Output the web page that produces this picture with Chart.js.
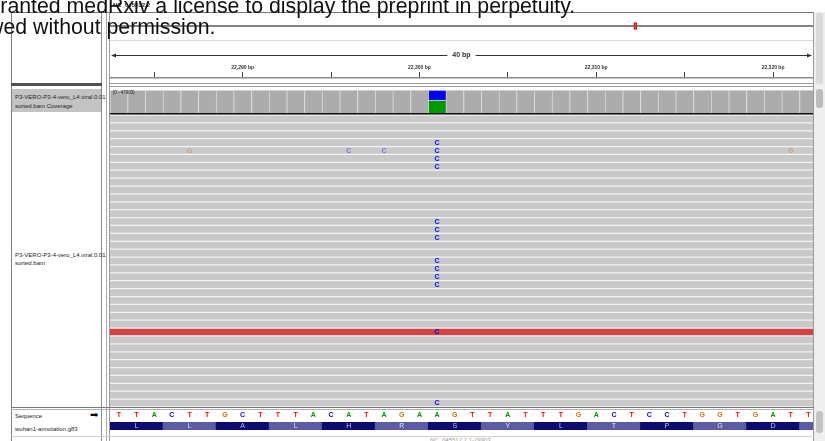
<!DOCTYPE html>
<html><head><meta charset="utf-8">
<script src="https://cdn.jsdelivr.net/npm/chart.js@4.4.1/dist/chart.umd.min.js"></script>
<style>
html,body{margin:0;padding:0;background:#fff;}
#root{position:relative;width:825px;height:441px;overflow:hidden;font-family:"Liberation Sans",Arial,Helvetica,sans-serif;background:#fff;}
#root div{position:absolute;}
#root canvas{position:absolute;display:block;}
.lbl{font-size:6px;color:#1e1e1e;white-space:nowrap;}
.wm{font-size:21.3px;line-height:21.5px;color:#111;white-space:nowrap;z-index:20;}
</style></head><body><div id="root">
<!-- scrollbar column -->
<div style="left:814px;top:12px;width:11px;height:429px;background:#efefef;"></div>
<div style="left:816px;top:13px;width:7px;height:71px;background:#dadada;border-radius:2px;"></div>
<div style="left:816px;top:89px;width:7px;height:19px;background:#bcbcbc;border-radius:3px;"></div>
<div style="left:816px;top:411px;width:7px;height:22px;background:#c4c4c4;border-radius:3px;"></div>
<!-- panel lines -->
<div style="left:11px;top:12px;width:803px;height:1px;background:#7a7a7a;"></div>
<div style="left:11px;top:12px;width:1px;height:429px;background:#808080;"></div>
<div style="left:101px;top:12px;width:1px;height:429px;background:#8a8a8a;"></div>
<div style="left:106px;top:0px;width:1px;height:441px;background:#a8a8a8;"></div>
<div style="left:109px;top:12px;width:1px;height:429px;background:#9a9a9a;"></div>
<div style="left:813px;top:12px;width:1px;height:429px;background:#9a9a9a;"></div>
<div style="left:110px;top:40px;width:703px;height:1px;background:#dcdcdc;"></div>
<div style="left:11px;top:83px;width:91px;height:3px;background:#505050;"></div>
<div style="left:110px;top:83px;width:703px;height:1px;background:#9a9a9a;"></div>
<div style="left:110px;top:86px;width:703px;height:1px;background:#9a9a9a;"></div>
<div style="left:12px;top:89px;width:89px;height:23px;background:#c3c3c3;"></div>
<div style="left:110px;top:113px;width:703px;height:1px;background:#111;"></div>
<div style="left:110px;top:114px;width:703px;height:1px;background:#777;"></div>
<div style="left:11px;top:407px;width:803px;height:1px;background:#7a7a7a;"></div>
<div style="left:11px;top:409px;width:803px;height:1px;background:#b0b0b0;"></div>
<div style="left:11px;top:436px;width:803px;height:1px;background:#cfcfcf;"></div>
<!-- track names -->
<div class="lbl" style="left:15px;top:93px;line-height:9px;">P3-VERO-P3-4-vero_L4.viral.0.01<br>sorted.bam Coverage</div>
<div class="lbl" style="left:15px;top:252px;line-height:7.6px;">P3-VERO-P3-4-vero_L4.viral.0.01<br>sorted.bam</div>
<div class="lbl" style="left:15px;top:412px;line-height:8px;">Sequence</div>
<div style="left:90px;top:409px;font-size:10px;line-height:12px;font-family:'DejaVu Sans';color:#000;">➡</div>
<div class="lbl" style="left:15px;top:425px;line-height:8px;">wuhan1-annotation.gff3</div>
<div class="lbl" style="left:430px;top:436px;line-height:8px;color:#9a9a9a;">NC_045512.2:1-29903</div>
<!-- charts -->
<canvas id="ideo" width="703" height="24" style="left:110px;top:14px;"></canvas>
<canvas id="ruler" width="703" height="38" style="left:110px;top:42px;"></canvas>
<canvas id="cov" width="703" height="23" style="left:110px;top:90px;"></canvas>
<canvas id="reads" width="703" height="292" style="left:110px;top:115px;"></canvas>
<canvas id="seq" width="703" height="10" style="left:110px;top:410px;"></canvas>
<canvas id="gff" width="703" height="8" style="left:110px;top:422px;"></canvas>
<!-- medRxiv watermark (left part clipped by the page edge) -->
<div class="wm" id="wm1" style="left:0px;top:-4px;"><span id="wm1cut">has g</span>ranted medRxiv a license to display the preprint in perpetuity.</div>
<div class="wm" id="wm2" style="left:0px;top:17px;"><span id="wm2cut">allow</span>ed without permission.</div>
<div class="lbl" style="left:113px;top:1px;font-weight:bold;line-height:8px;font-size:6px;z-index:30;">NC_045512.2</div>
</div>
<script>
// watermark: place so the visible part starts at the page edge
(function () {
  const c1 = document.getElementById('wm1cut').getBoundingClientRect().width;
  document.getElementById('wm1').style.left = (-c1 + 0.3) + 'px';
  const c2 = document.getElementById('wm2cut').getBoundingClientRect().width;
  document.getElementById('wm2').style.left = (-c2 + 3.5) + 'px';
})();

// ---------------- data ----------------
const FONT = "'Liberation Sans', Arial, Helvetica, sans-serif";
const genomeLength = 29903;
const viewStart = 22282.5;
const viewEnd = 22322.26;
const rulerStep = 5;
const rulerLabelStep = 10;

const refStart = 22283;
const refBases = ['T','T','A','C','T','T','G','C','T','T','T','A','C','A','T','A','G','A','A','G',
                  'T','T','A','T','T','T','G','A','C','T','C','C','T','G','G','T','G','A','T','T'];

const covPositions = [22283,22284,22285,22286,22287,22288,22289,22290,22291,22292,
                      22293,22294,22295,22296,22297,22298,22299,22300,22301,22302,
                      22303,22304,22305,22306,22307,22308,22309,22310,22311,22312,
                      22313,22314,22315,22316,22317,22318,22319,22320,22321,22322];
const covDepth = [47211,47268,47302,47355,47390,47431,47466,47502,47539,47571,
                  47603,47630,47652,47677,47701,47722,47748,47769,47700,47805,
                  47821,47836,47852,47863,47874,47882,47890,47896,47901,47903,
                  47899,47893,47884,47871,47857,47840,47818,47795,47770,47742];
const covScaleMax = 47903;
const variantPos = 22301;
const variantRefCount = 27150;   // A
const variantAltCount = 20550;   // C

const readRows  = [0,1,2,3,4,5,6,7,8,9,10,11,12,13,14,15,16,17,18,19,20,21,22,23,24,25,26,27,28,29,30,31,32,33,34,35,36];
const readStart = [22228,22251,22210,22263,22240,22199,22275,22219,22248,22266,22205,22237,22258,22213,22271,22229,22244,22262,22208,
                   22253,22235,22269,22217,22247,22279,22224,22256,22203,22241,22268,22231,22215,22260,22249,22277,22222,22238];
const readEnd   = [22378,22401,22360,22413,22390,22349,22425,22369,22398,22416,22355,22387,22408,22363,22421,22379,22394,22412,22358,
                   22403,22385,22419,22367,22397,22429,22374,22406,22353,22391,22418,22381,22365,22410,22399,22427,22372,22388];
const flaggedRows = [27];

const mmRow   = [3,4,5,6,13,14,15,18,19,20,21,27,36,4,4,4,4];
const mmPos   = [22301,22301,22301,22301,22301,22301,22301,22301,22301,22301,22301,22301,22301,22287,22296,22298,22321];
const mmBase  = ['C','C','C','C','C','C','C','C','C','C','C','C','C','G','C','C','G'];
const mmFaded = [false,false,false,false,false,false,false,false,false,false,false,false,false,true,true,true,true];

const codonStart = 22283;
const aminoAcids = ['L','L','A','L','H','R','S','Y','L','T','P','G','D','S'];

const baseColor = {A:'#009600', C:'#0000ff', G:'#d17105', T:'#ff0000'};

// ---------------- common ----------------
Chart.defaults.font.family = FONT;
Chart.defaults.animation = false;
Chart.defaults.events = [];
Chart.defaults.plugins.legend.display = false;
Chart.defaults.plugins.tooltip.enabled = false;

const bgPlugin = {
  id: 'bg',
  beforeDraw(chart, args, opts) {
    if (!opts || !opts.color) return;
    const ctx = chart.ctx;
    ctx.save(); ctx.fillStyle = opts.color; ctx.fillRect(0, 0, chart.width, chart.height); ctx.restore();
  }
};
Chart.register(bgPlugin);

function base(extra) {
  return Object.assign({responsive: false, maintainAspectRatio: false, devicePixelRatio: 1, layout: {padding: 0}}, extra);
}

// ---------------- ideogram ----------------
new Chart(document.getElementById('ideo'), {
  type: 'bar',
  data: {labels: ['chr'], datasets: [
    {data: [{y: 'chr', x: [0, genomeLength]}], backgroundColor: '#5a5a5a', barThickness: 1, grouped: false},
    {data: [{y: 'chr', x: [viewStart, viewEnd]}], backgroundColor: 'rgba(255,80,80,0.25)', borderColor: '#ff0000',
     borderWidth: 1, borderSkipped: false, barThickness: 7, minBarLength: 3, grouped: false}
  ]},
  options: base({indexAxis: 'y', scales: {
    x: {type: 'linear', min: 0, max: genomeLength, display: false},
    y: {type: 'category', display: false}
  }})
});

// ---------------- ruler ----------------
const spanPlugin = {
  id: 'span',
  afterDraw(chart) {
    const {ctx, chartArea: a, scales: {x}} = chart;
    const span = Math.round(x.max - x.min);
    const txt = span + ' bp';
    const cy = 13.5;
    ctx.save();
    ctx.font = 'bold 7px ' + FONT;
    ctx.fillStyle = '#333'; ctx.strokeStyle = '#333'; ctx.lineWidth = 1;
    const w = ctx.measureText(txt).width;
    const cx = (a.left + a.right) / 2;
    ctx.textAlign = 'center'; ctx.textBaseline = 'middle';
    ctx.fillText(txt, cx, cy);
    ctx.beginPath();
    ctx.moveTo(a.left + 2, cy); ctx.lineTo(cx - w / 2 - 5, cy);
    ctx.moveTo(cx + w / 2 + 5, cy); ctx.lineTo(a.right - 2, cy);
    ctx.stroke();
    ctx.beginPath();
    ctx.moveTo(a.left + 1, cy); ctx.lineTo(a.left + 6, cy - 2); ctx.lineTo(a.left + 6, cy + 2); ctx.closePath();
    ctx.moveTo(a.right - 1, cy); ctx.lineTo(a.right - 6, cy - 2); ctx.lineTo(a.right - 6, cy + 2); ctx.closePath();
    ctx.fill();
    ctx.restore();
  }
};
new Chart(document.getElementById('ruler'), {
  type: 'scatter',
  data: {datasets: []},
  options: base({scales: {
    x: {type: 'linear', position: 'top', min: viewStart, max: viewEnd,
        afterFit(s) { s.height = 36; },
        ticks: {stepSize: rulerStep, includeBounds: false, autoSkip: false, maxRotation: 0, padding: 1,
                color: '#333', font: {size: 5, weight: 'bold'},
                callback: v => (v % rulerLabelStep === 0 ? v.toLocaleString('en-US') + ' bp' : '')},
        grid: {drawOnChartArea: false, tickLength: 6, color: '#444', lineWidth: 1},
        border: {color: '#8c8c8c', width: 1.5}},
    y: {display: false, min: 0, max: 1}
  }}),
  plugins: [spanPlugin]
});

// ---------------- coverage ----------------
const covLabelPlugin = {
  id: 'covLabel',
  afterDatasetsDraw(chart) {
    const {ctx, chartArea: a, scales: {y}} = chart;
    ctx.save();
    ctx.font = '4.5px ' + FONT; ctx.fillStyle = '#222'; ctx.textBaseline = 'middle'; ctx.textAlign = 'left';
    ctx.fillText('[0 - ' + y.max + ']', a.left + 3, a.top + 3);
    ctx.restore();
  }
};
new Chart(document.getElementById('cov'), {
  type: 'bar',
  data: {datasets: [
    {data: covPositions.map((p, i) => ({x: p, y: p === variantPos ? 0 : covDepth[i]})), backgroundColor: '#acacac'},
    {data: [{x: variantPos, y: variantRefCount}], backgroundColor: '#009a00'},
    {data: [{x: variantPos, y: variantAltCount}], backgroundColor: '#0000f6'}
  ]},
  options: base({
    datasets: {bar: {barPercentage: 1, categoryPercentage: 1, borderWidth: {left: 1, right: 0, top: 1, bottom: 0},
                     borderColor: '#d8d8d8', borderSkipped: false}},
    plugins: {bg: {color: '#ffffff'}},
    scales: {
      x: {type: 'linear', min: viewStart, max: viewEnd, offset: false, stacked: true, display: false},
      y: {type: 'linear', min: 0, max: covScaleMax, stacked: true, display: false}
    }
  }),
  plugins: [covLabelPlugin]
});

// ---------------- reads ----------------
const mismatchPlugin = {
  id: 'mismatches',
  afterDatasetsDraw(chart) {
    const {ctx, scales: {x, y}} = chart;
    ctx.save();
    ctx.font = 'bold 7px ' + FONT; ctx.textAlign = 'center'; ctx.textBaseline = 'middle';
    mmRow.forEach((r, i) => {
      ctx.globalAlpha = mmFaded[i] ? 0.45 : 1;
      ctx.fillStyle = baseColor[mmBase[i]];
      ctx.fillText(mmBase[i], x.getPixelForValue(mmPos[i]), y.getPixelForValue(r) + 0.5);
    });
    ctx.restore();
  }
};
new Chart(document.getElementById('reads'), {
  type: 'bar',
  data: {datasets: [{
    data: readRows.map((r, i) => ({y: r, x: [readStart[i], readEnd[i]]})),
    backgroundColor: readRows.map(r => (flaggedRows.includes(r) ? '#d34343' : '#c9c9c9')),
    barPercentage: 0.84, categoryPercentage: 1, borderWidth: 0
  }]},
  options: base({
    indexAxis: 'y',
    plugins: {bg: {color: '#f3f3f3'}},
    scales: {
      x: {type: 'linear', min: viewStart, max: viewEnd, display: false},
      y: {type: 'linear', min: -0.5, max: readRows.length - 0.5, reverse: true, offset: false, display: false}
    }
  }),
  plugins: [mismatchPlugin]
});

// ---------------- sequence ----------------
const seqPlugin = {
  id: 'seqLetters',
  afterDatasetsDraw(chart) {
    const {ctx, chartArea: a, scales: {x}} = chart;
    ctx.save();
    ctx.font = 'bold 7px ' + FONT; ctx.textAlign = 'center'; ctx.textBaseline = 'middle';
    refBases.forEach((b, i) => {
      ctx.fillStyle = baseColor[b];
      ctx.fillText(b, x.getPixelForValue(refStart + i), (a.top + a.bottom) / 2 + 0.5);
    });
    ctx.restore();
  }
};
new Chart(document.getElementById('seq'), {
  type: 'scatter',
  data: {datasets: []},
  options: base({scales: {
    x: {type: 'linear', min: viewStart, max: viewEnd, display: false},
    y: {display: false, min: 0, max: 1}
  }}),
  plugins: [seqPlugin]
});

// ---------------- annotation (translation) ----------------
const aaPlugin = {
  id: 'aaLetters',
  afterDatasetsDraw(chart) {
    const {ctx} = chart;
    const meta = chart.getDatasetMeta(0);
    ctx.save();
    ctx.font = '7px ' + FONT; ctx.textAlign = 'center'; ctx.textBaseline = 'middle';
    meta.data.forEach((el, i) => {
      ctx.fillStyle = i % 2 === 0 ? '#c4c4dc' : '#e2e2ee';
      ctx.fillText(aminoAcids[i], (el.x + el.base) / 2, el.y + 0.5);
    });
    ctx.restore();
  }
};
new Chart(document.getElementById('gff'), {
  type: 'bar',
  data: {labels: ['aa'], datasets: [{
    data: aminoAcids.map((a, i) => ({y: 'aa', x: [codonStart + 3 * i - 0.5, codonStart + 3 * i + 2.5]})),
    backgroundColor: aminoAcids.map((a, i) => (i % 2 === 0 ? '#0b0b72' : '#5c5ca4')),
    barPercentage: 1, categoryPercentage: 1, borderWidth: 0
  }]},
  options: base({indexAxis: 'y', scales: {
    x: {type: 'linear', min: viewStart, max: viewEnd, display: false},
    y: {type: 'category', display: false}
  }}),
  plugins: [aaPlugin]
});
</script>
</body></html>
